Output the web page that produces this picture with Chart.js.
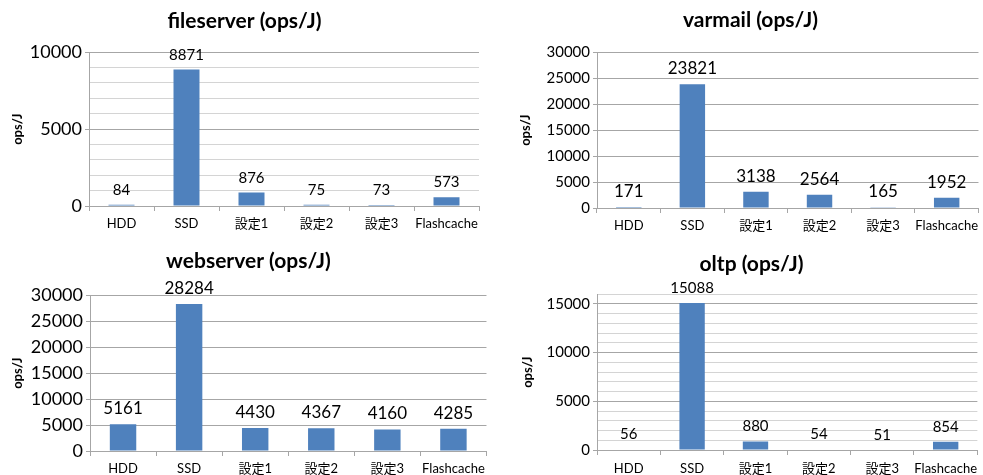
<!DOCTYPE html>
<html>
<head>
  <title>ops/J</title>
  <script src="https://cdn.jsdelivr.net/npm/chart.js@4.4.2/dist/chart.umd.min.js"></script>
  <style>
    body { margin: 0; background: #fff; }
    #wrap { position: relative; width: 983px; height: 475px; overflow: hidden; }
    .box { position: absolute; }
  </style>
</head>
<body>
<div id="wrap">
  <div class="box" style="left:0;top:0;width:484px;height:240px"><canvas id="fileserver"></canvas></div>
  <div class="box" style="left:510px;top:0;width:473px;height:240px"><canvas id="varmail"></canvas></div>
  <div class="box" style="left:0;top:240px;width:490px;height:235px"><canvas id="webserver"></canvas></div>
  <div class="box" style="left:510px;top:240px;width:473px;height:235px"><canvas id="oltp"></canvas></div>
</div>
<script>
const categories = ['HDD', 'SSD', '設定1', '設定2', '設定3', 'Flashcache'];
const fileserverOps = [84, 8871, 876, 75, 73, 573];
const varmailOps = [171, 23821, 3138, 2564, 165, 1952];
const webserverOps = [5161, 28284, 4430, 4367, 4160, 4285];
const oltpOps = [56, 15088, 880, 54, 51, 854];

const FONT = "Lato, 'Noto Sans CJK JP', sans-serif";
const BAR = '#4f81bd';
const MAJOR = '#a6a6a6';
const MINOR = '#d4d4d4';

Chart.defaults.font.family = FONT;
Chart.defaults.color = '#000';
Chart.defaults.animation = false;

// value printed above every bar
const valueLabels = {
  id: 'valueLabels',
  afterDatasetsDraw(chart, args, opts) {
    const ctx = chart.ctx;
    const meta = chart.getDatasetMeta(0);
    const values = chart.data.datasets[0].data;
    ctx.save();
    ctx.font = opts.size + 'px ' + FONT;
    ctx.fillStyle = '#000';
    ctx.textAlign = 'center';
    ctx.textBaseline = 'alphabetic';
    meta.data.forEach((bar, i) => ctx.fillText(String(values[i]), bar.x, bar.y - 10));
    ctx.restore();
  }
};

function makeChart(id, title, values, s) {
  const isMajor = c => c.tick && c.tick.value % 5000 === 0;
  return new Chart(document.getElementById(id), {
    type: 'bar',
    data: {
      labels: categories,
      datasets: [{ data: values, backgroundColor: BAR, categoryPercentage: 1, barPercentage: 0.4 }]
    },
    options: {
      responsive: true,
      maintainAspectRatio: false,
      layout: { padding: { left: s.padLeft, right: s.padRight, top: 0, bottom: 0 } },
      plugins: {
        legend: { display: false },
        tooltip: { enabled: false },
        title: {
          display: true, text: title, color: '#000',
          font: { size: 21, weight: 'bold' },
          padding: { top: s.titleTop, bottom: s.titleBottom }
        },
        valueLabels: { size: s.valueSize }
      },
      scales: {
        x: {
          afterFit: sc => { sc.height = s.xHeight; },
          grid: { display: true, drawOnChartArea: false, drawTicks: true, tickLength: 5, color: MAJOR },
          border: { color: MAJOR },
          ticks: { font: { size: 13 }, padding: s.xPad, maxRotation: 0, autoSkip: false }
        },
        y: {
          min: 0, max: s.max,
          afterFit: sc => { sc.width = s.yWidth; },
          ticks: {
            stepSize: s.step, padding: 3, autoSkip: false, font: { size: s.tickSize },
            callback: v => (v % 5000 === 0 ? v : '')
          },
          grid: {
            color: c => (isMajor(c) ? MAJOR : MINOR),
            tickColor: c => (isMajor(c) ? MAJOR : 'rgba(0,0,0,0)'),
            tickLength: 4
          },
          border: { color: MAJOR },
          title: { display: true, text: 'ops/J', font: { size: 13, weight: 'bold' }, padding: 0 }
        }
      }
    },
    plugins: [valueLabels]
  });
}

makeChart('fileserver', 'fileserver (ops/J)', fileserverOps, {
  max: 10000, step: 1000, tickSize: 18, valueSize: 15,
  padLeft: 10, padRight: 5, yWidth: 79, xHeight: 34, xPad: 5, titleTop: 9, titleBottom: 18
});
makeChart('varmail', 'varmail (ops/J)', varmailOps, {
  max: 30000, step: 5000, tickSize: 15, valueSize: 17,
  padLeft: 8, padRight: 0, yWidth: 79, xHeight: 32, xPad: 5, titleTop: 8, titleBottom: 19
});
makeChart('webserver', 'webserver (ops/J)', webserverOps, {
  max: 30000, step: 5000, tickSize: 18, valueSize: 17,
  padLeft: 10, padRight: 3, yWidth: 80, xHeight: 24, xPad: 5, titleTop: 9, titleBottom: 21
});
makeChart('oltp', 'oltp (ops/J)', oltpOps, {
  max: 16000, step: 1000, tickSize: 15, valueSize: 15,
  padLeft: 10, padRight: 0, yWidth: 77, xHeight: 25, xPad: 6, titleTop: 12, titleBottom: 17
});
</script>
</body>
</html>
